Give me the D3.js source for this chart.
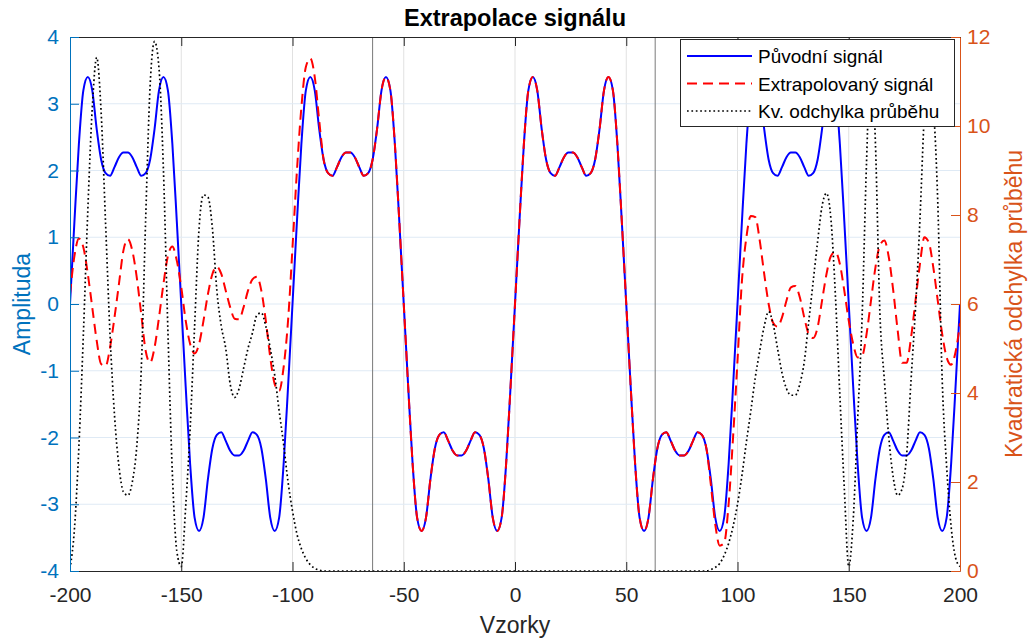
<!DOCTYPE html>
<html>
<head>
<meta charset="utf-8">
<script src="https://cdn.jsdelivr.net/npm/d3@7"></script>
<style>
  body { margin: 0; background: #fff; }
  svg text { font-family: "Liberation Sans", Arial, Helvetica, sans-serif; }
</style>
</head>
<body>
<svg id="chart" width="1033" height="641"></svg>
<script>
// ---- data -------------------------------------------------------------
const xTicks = [-200, -150, -100, -50, 0, 50, 100, 150, 200];
const leftTicks = [-4, -3, -2, -1, 0, 1, 2, 3, 4];
const rightTicks = [0, 2, 4, 6, 8, 10, 12];
const windowEdges = [-64, 63];
const seriesNames = ["Původní signál", "Extrapolovaný signál", "Kv. odchylka průběhu"];

// sample positions (every second sample from -200 to 200)
const sampleX = d3.range(-200, 201, 2);

// original signal
const originalSignal = [
  // -200 .. -152
  0, 1.24, 2.40, 3.20, 3.40, 3.20, 2.62, 2.16, 1.96, 1.92, 2.05, 2.20, 2.27, 2.27, 2.20, 2.05, 1.92, 1.96, 2.16, 2.62, 3.20, 3.40, 3.20, 2.40, 1.24,
  // -150 .. -102
  0, -1.24, -2.40, -3.20, -3.40, -3.20, -2.62, -2.16, -1.96, -1.92, -2.05, -2.20, -2.27, -2.27, -2.20, -2.05, -1.92, -1.96, -2.16, -2.62, -3.20, -3.40, -3.20, -2.40, -1.24,
  // -100 .. -52
  0, 1.24, 2.40, 3.20, 3.40, 3.20, 2.62, 2.16, 1.96, 1.92, 2.05, 2.20, 2.27, 2.27, 2.20, 2.05, 1.92, 1.96, 2.16, 2.62, 3.20, 3.40, 3.20, 2.40, 1.24,
  // -50 .. -2
  0, -1.24, -2.40, -3.20, -3.40, -3.20, -2.62, -2.16, -1.96, -1.92, -2.05, -2.20, -2.27, -2.27, -2.20, -2.05, -1.92, -1.96, -2.16, -2.62, -3.20, -3.40, -3.20, -2.40, -1.24,
  // 0 .. 48
  0, 1.24, 2.40, 3.20, 3.40, 3.20, 2.62, 2.16, 1.96, 1.92, 2.05, 2.20, 2.27, 2.27, 2.20, 2.05, 1.92, 1.96, 2.16, 2.62, 3.20, 3.40, 3.20, 2.40, 1.24,
  // 50 .. 98
  0, -1.24, -2.40, -3.20, -3.40, -3.20, -2.62, -2.16, -1.96, -1.92, -2.05, -2.20, -2.27, -2.27, -2.20, -2.05, -1.92, -1.96, -2.16, -2.62, -3.20, -3.40, -3.20, -2.40, -1.24,
  // 100 .. 148
  0, 1.24, 2.40, 3.20, 3.40, 3.20, 2.62, 2.16, 1.96, 1.92, 2.05, 2.20, 2.27, 2.27, 2.20, 2.05, 1.92, 1.96, 2.16, 2.62, 3.20, 3.40, 3.20, 2.40, 1.24,
  // 150 .. 200
  0, -1.24, -2.40, -3.20, -3.40, -3.20, -2.62, -2.16, -1.96, -1.92, -2.05, -2.20, -2.27, -2.27, -2.20, -2.05, -1.92, -1.96, -2.16, -2.62, -3.20, -3.40, -3.20, -2.40, -1.24,
  0
];

// extrapolated signal
const extrapolatedSignal = [
  // -200 .. -88
  0.15, 0.72, 0.98, 0.85, 0.45, -0.05, -0.55, -0.90, -0.93, -0.65, -0.20, 0.30, 0.80, 0.97, 0.80, 0.40, -0.15, -0.70, -0.88, -0.65,
  -0.20, 0.30, 0.72, 0.86, 0.65, 0.25, -0.25, -0.60, -0.74, -0.60, -0.25, 0.15, 0.45, 0.56, 0.45, 0.20, -0.05, -0.22, -0.23, -0.05,
  0.20, 0.37, 0.41, 0.20, -0.25, -0.80, -1.20, -1.30, -0.95, -0.25, 0.85, 2.00, 2.95, 3.55, 3.68, 3.40, 2.75,
  // -86 .. -52
  2.16, 1.96, 1.92, 2.05, 2.20, 2.27, 2.27, 2.20, 2.05, 1.92, 1.96, 2.16, 2.62, 3.20, 3.40, 3.20, 2.40, 1.24,
  // -50 .. -2
  0, -1.24, -2.40, -3.20, -3.40, -3.20, -2.62, -2.16, -1.96, -1.92, -2.05, -2.20, -2.27, -2.27, -2.20, -2.05, -1.92, -1.96, -2.16, -2.62, -3.20, -3.40, -3.20, -2.40, -1.24,
  // 0 .. 48
  0, 1.24, 2.40, 3.20, 3.40, 3.20, 2.62, 2.16, 1.96, 1.92, 2.05, 2.20, 2.27, 2.27, 2.20, 2.05, 1.92, 1.96, 2.16, 2.62, 3.20, 3.40, 3.20, 2.40, 1.24,
  // 50 .. 86
  0, -1.24, -2.40, -3.20, -3.40, -3.20, -2.62, -2.16, -1.96, -1.92, -2.05, -2.20, -2.27, -2.27, -2.20, -2.05, -1.92, -1.96, -2.16,
  // 88 .. 200
  -2.70, -3.30, -3.62, -3.58, -3.00, -2.00, -0.85, 0.35, 1.00, 1.32, 1.30, 0.95, 0.45, 0.00, -0.28, -0.34, -0.20, 0.05, 0.25, 0.27,
  0.10, -0.20, -0.45, -0.51, -0.35, 0.05, 0.45, 0.72, 0.78, 0.60, 0.20, -0.25, -0.60, -0.80, -0.78, -0.45, 0.05, 0.55, 0.88, 0.95,
  0.70, 0.20, -0.40, -0.88, -0.88, -0.50, 0.05, 0.60, 1.00, 0.92, 0.55, 0.05, -0.45, -0.80, -0.91, -0.72, -0.29
];

// squared deviation (right axis)
const squaredError = [
  // -200 .. -88
  0.05, 0.95, 2.8, 5.3, 8.1, 10.4, 11.54, 10.3, 7.8, 5.3, 3.5, 2.35, 1.78, 1.70, 2.0, 2.8, 4.5, 7.9, 10.9, 11.9,
  11.3, 9.0, 5.4, 2.2, 0.45, 0.1, 1.45, 3.2, 5.5, 7.7, 8.45, 8.4, 7.7, 6.3, 5.5, 5.0, 4.2, 3.9, 4.1, 4.55,
  5.0, 5.35, 5.75, 5.8, 5.5, 5.0, 4.4, 3.6, 2.85, 2.0, 1.35, 0.83, 0.5, 0.28, 0.14, 0.06, 0.02,
  // -86 .. 86
  0, 0, 0, 0, 0, 0, 0, 0, 0, 0, 0, 0, 0, 0, 0, 0, 0, 0, 0, 0, 0, 0, 0, 0, 0, 0, 0, 0, 0, 0,
  0, 0, 0, 0, 0, 0, 0, 0, 0, 0, 0, 0, 0, 0, 0, 0, 0, 0, 0, 0, 0, 0, 0, 0, 0, 0, 0, 0, 0, 0,
  0, 0, 0, 0, 0, 0, 0, 0, 0, 0, 0, 0, 0, 0, 0, 0, 0, 0, 0, 0, 0, 0, 0, 0, 0, 0, 0,
  // 88 .. 200
  0.03, 0.08, 0.17, 0.35, 0.62, 1.0, 1.5, 2.15, 2.9, 3.6, 4.35, 4.95, 5.5, 5.83, 5.55, 5.0, 4.45, 4.1, 3.95, 3.95,
  4.2, 4.7, 5.6, 6.5, 7.4, 8.2, 8.49, 7.9, 6.2, 3.95, 1.85, 0.1, 1.15, 3.4, 5.7, 9.2, 11.6, 9.6, 5.8, 4.3,
  3.0, 2.1, 1.7, 1.85, 2.6, 4.3, 5.9, 7.9, 10.3, 11.5, 10.5, 8.3, 4.3, 2.34, 1.0, 0.3, 0.1
];

// ---- layout -----------------------------------------------------------
const plot = { left: 70, right: 960, top: 37, bottom: 571 };
const colors = {
  left: "#0072BD", right: "#D95319", axis: "#262626",
  original: "#0000FF", extrapolated: "#FF0000", error: "#000000"
};

const svg = d3.select("#chart");

const x = d3.scaleLinear().domain([-200, 200]).range([plot.left, plot.right]);
const yL = d3.scaleLinear().domain([-4, 4]).range([plot.bottom, plot.top]);
const yR = d3.scaleLinear().domain([0, 12]).range([plot.bottom, plot.top]);

svg.append("defs").append("clipPath").attr("id", "plot-clip")
  .append("rect")
  .attr("x", plot.left).attr("y", plot.top)
  .attr("width", plot.right - plot.left).attr("height", plot.bottom - plot.top);

// grid
const grid = svg.append("g");
grid.selectAll("line.gx").data(xTicks.slice(1, -1)).join("line")
  .attr("x1", d => x(d)).attr("x2", d => x(d))
  .attr("y1", plot.top).attr("y2", plot.bottom)
  .attr("stroke", "#e1e1e1").attr("stroke-width", 1);
grid.selectAll("line.gy").data(leftTicks.slice(1, -1)).join("line")
  .attr("x1", plot.left).attr("x2", plot.right)
  .attr("y1", d => yL(d)).attr("y2", d => yL(d))
  .attr("stroke", "#dfeaf5").attr("stroke-width", 1);

// window boundaries
svg.append("g").selectAll("line").data(windowEdges).join("line")
  .attr("x1", d => x(d)).attr("x2", d => x(d))
  .attr("y1", plot.top).attr("y2", plot.bottom)
  .attr("stroke", "#7a7a7a").attr("stroke-width", 1);

// series
const marks = svg.append("g").attr("clip-path", "url(#plot-clip)");
const lineL = d3.line().x((d, i) => x(sampleX[i])).y(d => yL(d)).curve(d3.curveMonotoneX);
const lineR = d3.line().x((d, i) => x(sampleX[i])).y(d => yR(d)).curve(d3.curveMonotoneX);

marks.append("path").datum(originalSignal).attr("d", lineL)
  .attr("fill", "none").attr("stroke", colors.original).attr("stroke-width", 2);
marks.append("path").datum(extrapolatedSignal).attr("d", lineL)
  .attr("fill", "none").attr("stroke", colors.extrapolated).attr("stroke-width", 2)
  .attr("stroke-dasharray", "10,6");
marks.append("path").datum(squaredError).attr("d", lineR)
  .attr("fill", "none").attr("stroke", colors.error).attr("stroke-width", 1.7)
  .attr("stroke-dasharray", "1.7,2.7");

// axes
function styleAxis(g, color, textColor) {
  g.select(".domain").attr("stroke", color).attr("stroke-width", 1);
  g.selectAll(".tick line").attr("stroke", color).attr("stroke-width", 1);
  g.selectAll(".tick text").attr("fill", textColor).attr("font-size", 21)
    .attr("font-family", "Liberation Sans, Arial, sans-serif");
}

const fmt = d => String(d).replace("−", "-");

svg.append("g").attr("transform", `translate(0,${plot.top})`)
  .call(d3.axisTop(x).tickValues(xTicks).tickSizeInner(-9).tickSizeOuter(0).tickFormat(""))
  .call(g => styleAxis(g, colors.axis, colors.axis));

svg.append("g").attr("transform", `translate(0,${plot.bottom})`)
  .call(d3.axisBottom(x).tickValues(xTicks).tickSizeInner(-9).tickSizeOuter(0).tickPadding(16).tickFormat(fmt))
  .call(g => styleAxis(g, colors.axis, colors.axis));

svg.append("g").attr("transform", `translate(${plot.left},0)`)
  .call(d3.axisLeft(yL).tickValues(leftTicks).tickSizeInner(-9).tickSizeOuter(0).tickPadding(11).tickFormat(fmt))
  .call(g => styleAxis(g, colors.left, colors.left));

svg.append("g").attr("transform", `translate(${plot.right},0)`)
  .call(d3.axisRight(yR).tickValues(rightTicks).tickSizeInner(-9).tickSizeOuter(0).tickPadding(7).tickFormat(fmt))
  .call(g => styleAxis(g, colors.right, colors.right));

// titles
svg.append("text").attr("x", (plot.left + plot.right) / 2).attr("y", 26)
  .attr("text-anchor", "middle").attr("font-size", 23.5).attr("font-weight", "bold")
  .attr("fill", "#000").text("Extrapolace signálu");

svg.append("text").attr("x", (plot.left + plot.right) / 2).attr("y", 633)
  .attr("text-anchor", "middle").attr("font-size", 23).attr("fill", colors.axis)
  .text("Vzorky");

svg.append("text").attr("transform", `translate(30,${(plot.top + plot.bottom) / 2}) rotate(-90)`)
  .attr("text-anchor", "middle").attr("font-size", 23).attr("fill", colors.left)
  .text("Amplituda");

svg.append("text").attr("transform", `translate(1022,${(plot.top + plot.bottom) / 2}) rotate(-90)`)
  .attr("text-anchor", "middle").attr("font-size", 23).attr("fill", colors.right)
  .text("Kvadratická odchylka průběhu");

// legend
const legend = svg.append("g");
legend.append("rect").attr("x", 680.5).attr("y", 39.5).attr("width", 274).attr("height", 87)
  .attr("fill", "#fff").attr("stroke", colors.axis).attr("stroke-width", 1);
const rows = [
  { name: seriesNames[0], color: colors.original, width: 2, dash: null },
  { name: seriesNames[1], color: colors.extrapolated, width: 2, dash: "10,6" },
  { name: seriesNames[2], color: colors.error, width: 1.7, dash: "1.7,2.7" }
];
const rowY = [56, 83.5, 111];
rows.forEach((r, i) => {
  legend.append("line").attr("x1", 687).attr("x2", 752)
    .attr("y1", rowY[i]).attr("y2", rowY[i])
    .attr("stroke", r.color).attr("stroke-width", r.width)
    .attr("stroke-dasharray", r.dash);
  legend.append("text").attr("x", 758).attr("y", rowY[i] + 7)
    .attr("font-size", 19).attr("fill", "#000").text(r.name);
});
</script>
</body>
</html>
